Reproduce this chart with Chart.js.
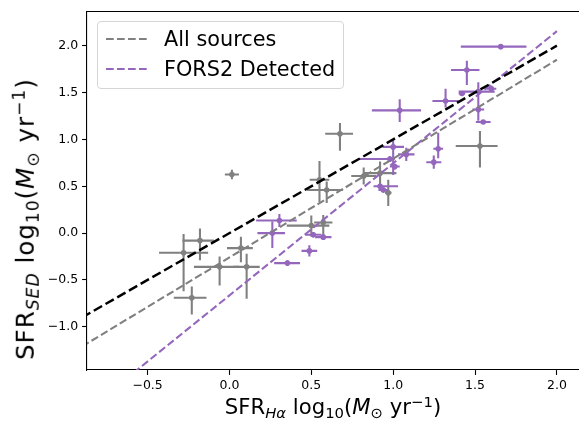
<!DOCTYPE html>
<html><head><meta charset="utf-8">
<script src="https://cdn.jsdelivr.net/npm/chart.js@4.4.1/dist/chart.umd.min.js"></script>
<style>
html,body{margin:0;padding:0;background:#fff;}
#wrap{position:relative;width:579px;height:421px;overflow:hidden;font-family:"DejaVu Sans",sans-serif;}
canvas{position:absolute;left:0;top:0;}
.lbl{position:absolute;white-space:nowrap;color:#000;line-height:1;}
.lbl sub{font-size:70%;vertical-align:-0.3em;line-height:0;}
.lbl sup{font-size:70%;vertical-align:0.5em;line-height:0;}
#xt{font-size:21.2px;left:333px;top:396px;transform:translateX(-50%);}
#yt{font-size:24.5px;letter-spacing:1px;left:26px;top:219px;transform:translate(-50%,-50%) rotate(-90deg);}
#legend{position:absolute;left:97px;top:21px;width:245px;height:66px;border:1px solid #d5d5d5;border-radius:4px;background:rgba(255,255,255,0.8);font-size:20.8px;color:#000;}
#legend .txt{position:absolute;left:66px;line-height:1;white-space:nowrap;}
#legend svg{position:absolute;left:7px;}
</style>
</head><body>
<div id="wrap">
<canvas id="c" width="579" height="421"></canvas>
<div id="legend">
  <svg style="top:15px" width="44" height="4"><line x1="1" y1="2" x2="43" y2="2" stroke="#808080" stroke-width="2.08" stroke-dasharray="7.7 3.3"/></svg>
  <div class="txt" style="top:7px">All sources</div>
  <svg style="top:45px" width="44" height="4"><line x1="1" y1="2" x2="43" y2="2" stroke="#9467bd" stroke-width="2.08" stroke-dasharray="7.7 3.3"/></svg>
  <div class="txt" style="top:37px">FORS2 Detected</div>
</div>
<div class="lbl" id="xt">SFR<sub><i>Hα</i></sub> log<sub>10</sub>(<i>M</i><sub>⊙</sub> yr<sup>−1</sup>)</div>
<div class="lbl" id="yt">SFR<sub><i>SED</i></sub> log<sub>10</sub>(<i>M</i><sub>⊙</sub> yr<sup>−1</sup>)</div>
</div>
<script>
// ---- tick labels ----
const xTicks = [-0.5, 0.0, 0.5, 1.0, 1.5, 2.0];
const yTicks = [-1.0, -0.5, 0.0, 0.5, 1.0, 1.5, 2.0];

// ---- all sources (grey) ----
const grayX   = [0.015, -0.28, -0.18, -0.23, -0.06, 0.105, 0.07, 0.675, 0.55, 0.594, 0.50, 0.573, 0.82, 0.92, 0.97, 1.53];
const grayY   = [0.625, -0.21, -0.08, -0.69, -0.36, -0.36, -0.16, 1.06, 0.57, 0.46, 0.08, 0.114, 0.61, 0.64, 0.43, 0.93];
const grayXlo = [0.043, 0.15, 0.107, 0.11, 0.157, 0.08, 0.085, 0.09, 0.06, 0.12, 0.15, 0.056, 0.076, 0.10, 0.02, 0.148];
const grayXhi = [0.043, 0.15, 0.085, 0.09, 0.12, 0.08, 0.073, 0.08, 0.06, 0.10, 0.11, 0.056, 0.076, 0.10, 0.02, 0.108];
const grayYlo = [0.05, 0.41, 0.21, 0.18, 0.20, 0.34, 0.15, 0.18, 0.24, 0.14, 0.115, 0.15, 0.09, 0.125, 0.14, 0.23];
const grayYhi = [0.05, 0.20, 0.13, 0.12, 0.11, 0.14, 0.12, 0.115, 0.20, 0.09, 0.107, 0.08, 0.09, 0.125, 0.14, 0.16];

// ---- FORS2 detected (purple) ----
const purpX   = [0.305, 0.262, 0.354, 0.488, 0.512, 0.573, 0.98, 1.0, 1.01, 1.08, 0.92, 0.94, 1.04, 1.275, 1.248, 1.45, 1.32, 1.42, 1.52, 1.52, 1.55, 1.60, 1.657];
const purpY   = [0.135, 0.0, -0.32, -0.19, -0.018, -0.043, 0.79, 0.92, 0.71, 0.84, 0.50, 0.46, 1.31, 0.90, 0.757, 1.74, 1.41, 1.49, 1.51, 1.32, 1.185, 1.54, 1.99];
const purpXlo = [0.142, 0.091, 0.081, 0.048, 0.05, 0.05, 0.19, 0.066, 0.03, 0.05, 0.04, 0.03, 0.17, 0.03, 0.046, 0.097, 0.08, 0.02, 0.12, 0.036, 0.045, 0.03, 0.244];
const purpXhi = [0.106, 0.077, 0.077, 0.048, 0.05, 0.05, 0.03, 0.066, 0.03, 0.05, 0.11, 0.03, 0.13, 0.03, 0.046, 0.077, 0.08, 0.02, 0.10, 0.036, 0.045, 0.03, 0.157];
const purpYlo = [0.07, 0.16, 0.03, 0.06, 0.03, 0.03, 0.03, 0.30, 0.03, 0.07, 0.03, 0.03, 0.125, 0.10, 0.07, 0.16, 0.07, 0.02, 0.31, 0.03, 0.02, 0.035, 0.02];
const purpYhi = [0.07, 0.124, 0.03, 0.06, 0.03, 0.03, 0.03, 0.07, 0.03, 0.07, 0.03, 0.03, 0.118, 0.17, 0.07, 0.10, 0.13, 0.02, 0.10, 0.03, 0.02, 0.035, 0.02];

// ---- fitted relations ----
const lineX = [-0.9, 2.0];
const oneToOne = {slope: 1.0, intercept: 0.0};
const allFit   = {slope: 1.055, intercept: -0.26};
const forsFit  = {slope: 1.41, intercept: -0.665};

const GREY = '#808080', PURPLE = '#9467bd';
const pts = (xs, ys) => xs.map((x, i) => ({x: x, y: ys[i]}));
const fitLine = f => lineX.map(x => ({x: x, y: f.slope * x + f.intercept}));
const fmt = v => (v < 0 ? '\u2212' : '') + Math.abs(v).toFixed(1);

const errorBars = {
  id: 'errorBars',
  beforeDatasetDraw(chart, args) {
    const ds = chart.data.datasets[args.index];
    if (!ds.errXlo) return;
    const xs = chart.scales.x, ys = chart.scales.y, c = chart.ctx, a = chart.chartArea;
    c.save();
    c.beginPath(); c.rect(a.left, a.top, a.right - a.left, a.bottom - a.top); c.clip();
    c.strokeStyle = ds.backgroundColor; c.lineWidth = 2.08; c.lineCap = 'butt';
    ds.data.forEach((p, i) => {
      const px = xs.getPixelForValue(p.x), py = ys.getPixelForValue(p.y);
      c.beginPath();
      c.moveTo(xs.getPixelForValue(p.x - ds.errXlo[i]), py);
      c.lineTo(xs.getPixelForValue(p.x + ds.errXhi[i]), py);
      c.moveTo(px, ys.getPixelForValue(p.y - ds.errYlo[i]));
      c.lineTo(px, ys.getPixelForValue(p.y + ds.errYhi[i]));
      c.stroke();
    });
    c.restore();
  }
};
const topSpine = {
  id: 'topSpine',
  afterDraw(chart) {
    const c = chart.ctx, a = chart.chartArea;
    c.save(); c.strokeStyle = '#000'; c.lineWidth = 1.1;
    c.beginPath(); c.moveTo(a.left - 0.5, a.top); c.lineTo(a.right + 2, a.top); c.stroke();
    c.restore();
  }
};

const tickFont = {family: 'DejaVu Sans', size: 12.5};
const axisCommon = {
  type: 'linear',
  grid: {display: true, drawOnChartArea: false, drawTicks: true, tickLength: 4.9, tickWidth: 1.1, tickColor: '#000'},
  border: {display: true, color: '#000', width: 1.1},
};

new Chart(document.getElementById('c'), {
  type: 'scatter',
  data: {datasets: [
    {type: 'line', label: '1:1', data: fitLine(oneToOne), borderColor: '#000', borderWidth: 2.5, borderDash: [9.5, 4], pointRadius: 0, fill: false},
    {type: 'line', label: 'All sources', data: fitLine(allFit), borderColor: GREY, borderWidth: 2.08, borderDash: [7.7, 3.3], pointRadius: 0, fill: false},
    {type: 'line', label: 'FORS2 Detected', data: fitLine(forsFit), borderColor: PURPLE, borderWidth: 2.08, borderDash: [7.7, 3.3], pointRadius: 0, fill: false},
    {label: 'FORS2 points', data: pts(purpX, purpY), backgroundColor: PURPLE, borderWidth: 0, pointRadius: 2.8,
      errXlo: purpXlo, errXhi: purpXhi, errYlo: purpYlo, errYhi: purpYhi},
    {label: 'All points', data: pts(grayX, grayY), backgroundColor: GREY, borderWidth: 0, pointRadius: 2.8,
      errXlo: grayXlo, errXhi: grayXhi, errYlo: grayYlo, errYhi: grayYhi}
  ]},
  options: {
    responsive: false, animation: false, devicePixelRatio: 1,
    plugins: {legend: {display: false}, tooltip: {enabled: false}},
    layout: {autoPadding: false, padding: {left: 0, right: 0, top: 10.7, bottom: 0}},
    scales: {
      x: Object.assign({}, axisCommon, {
        min: -0.87, max: 2.135,
        afterBuildTicks: s => { s.ticks = xTicks.map(v => ({value: v})); },
        afterFit: s => { s.height = 51; },
        ticks: {padding: 3, color: '#000', font: tickFont, maxRotation: 0, autoSkip: false, callback: fmt}
      }),
      y: Object.assign({}, axisCommon, {
        min: -1.461, max: 2.365,
        afterBuildTicks: s => { s.ticks = yTicks.map(v => ({value: v})); },
        afterFit: s => { s.width = 87; },
        ticks: {padding: 4, color: '#000', font: tickFont, autoSkip: false, callback: fmt}
      })
    }
  },
  plugins: [errorBars, topSpine]
});
</script>
</body></html>
